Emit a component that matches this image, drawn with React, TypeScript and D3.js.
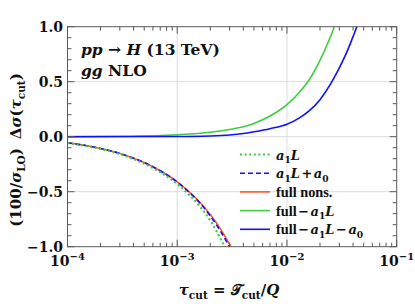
import React from 'react';
import * as d3 from 'd3';

// ---------- data ----------
const tauLow = [1e-4, 1.5e-4, 2e-4, 3e-4, 4e-4, 5e-4, 7e-4, 1e-3, 1.3e-3, 1.6e-3, 2e-3, 2.5e-3, 3e-3, 3.2e-3];
const a1L = [-0.057, -0.085, -0.111, -0.158, -0.203, -0.245, -0.323, -0.43, -0.533, -0.632, -0.762, -0.935, -1.09, -1.16];
const a1La0 = [-0.055, -0.082, -0.107, -0.152, -0.195, -0.235, -0.31, -0.412, -0.51, -0.6, -0.72, -0.865, -1.005, -1.06];
const fullNons = [-0.055, -0.082, -0.107, -0.152, -0.195, -0.235, -0.31, -0.41, -0.505, -0.593, -0.708, -0.845, -0.978, -1.03];
const tauHighG = [1e-4, 3e-4, 1e-3, 2e-3, 3e-3, 4e-3, 5e-3, 7e-3, 1e-2, 1.3e-2, 1.6e-2, 2e-2, 2.4e-2, 2.7e-2, 2.8e-2];
const fullMinusA1L = [0.001, 0.004, 0.018, 0.04, 0.066, 0.09, 0.12, 0.188, 0.292, 0.405, 0.52, 0.694, 0.87, 1.0, 1.05];
const tauHighB = [1e-4, 1e-3, 2e-3, 3e-3, 4e-3, 5e-3, 7e-3, 1e-2, 1.3e-2, 1.6e-2, 2e-2, 2.5e-2, 3e-2, 3.5e-2, 4e-2, 4.4e-2, 4.6e-2];
const fullMinusA1LA0 = [0, 0.002, 0.007, 0.016, 0.029, 0.045, 0.073, 0.113, 0.171, 0.237, 0.337, 0.48, 0.625, 0.766, 0.91, 1.02, 1.08];

const xMajor = [1e-4, 1e-3, 1e-2, 1e-1];
const xExpLabels = ['−4', '−3', '−2', '−1'];
const yMajor = [-1, -0.5, 0, 0.5, 1];
const yLabels = ['−1.0', '−0.5', '0.0', '0.5', '1.0'];
const yGrid = [-0.5, 0, 0.5];
const xGrid = [1e-3, 1e-2];

const W = 415, H = 304;
const L = 67.5, R = 396.7, T = 26.7, B = 246.7;
const FONT = '"DejaVu Serif", serif';
const FONT_TXT = '"Liberation Serif", serif';

const GREEN = '#40cc40';
const BLUE = '#1010ff';
const RED = '#ff5526';
const AXIS = '#5a5a5a';

type Seg = { t: string; i?: boolean; sub?: boolean; dx?: number; txt?: boolean };

function Rich({ segs, size }: { segs: Seg[]; size: number }) {
  const out: React.ReactNode[] = [];
  let shifted = false;
  segs.forEach((s, k) => {
    let dy = 0;
    if (s.sub && !shifted) { dy = size * 0.28; shifted = true; }
    else if (!s.sub && shifted) { dy = -size * 0.28; shifted = false; }
    out.push(
      <tspan key={k} dy={dy} dx={s.dx || 0} fontStyle={s.i ? 'italic' : 'normal'}
        fontFamily={s.txt ? FONT_TXT : undefined}
        fontSize={s.sub ? size * 0.7 : s.txt ? size * 1.1 : size}>
        {s.t}
      </tspan>
    );
  });
  return <>{out}</>;
}

const legendRows: { segs: Seg[]; color: string; dash: string; width: number }[] = [
  { segs: [{ t: 'a', i: true }, { t: '1', sub: true }, { t: 'L', i: true }], color: GREEN, dash: '2,2.6', width: 2.2 },
  { segs: [{ t: 'a', i: true }, { t: '1', sub: true }, { t: 'L', i: true }, { t: '+', dx: 1.5 }, { t: 'a', i: true, dx: 1.5 }, { t: '0', sub: true }], color: BLUE, dash: '5,3', width: 1.6 },
  { segs: [{ t: 'full nons.', txt: true }], color: RED, dash: '', width: 1.6 },
  { segs: [{ t: 'full', txt: true }, { t: '−', dx: 1.5 }, { t: 'a', i: true, dx: 1.5 }, { t: '1', sub: true }, { t: 'L', i: true }], color: GREEN, dash: '', width: 1.6 },
  { segs: [{ t: 'full', txt: true }, { t: '−', dx: 1.5 }, { t: 'a', i: true, dx: 1.5 }, { t: '1', sub: true }, { t: 'L', i: true }, { t: '−', dx: 1.5 }, { t: 'a', i: true, dx: 1.5 }, { t: '0', sub: true }], color: BLUE, dash: '', width: 1.6 },
];

export default function App() {
  const x = d3.scaleLog().domain([1e-4, 1e-1]).range([L, R]);
  const y = d3.scaleLinear().domain([-1, 1]).range([B, T]);
  const mk = (xs: number[], ys: number[]) =>
    d3.line<number>().x((_, i) => x(xs[i])).y((d) => y(d)).curve(d3.curveMonotoneX)(ys) || '';

  const xMinor: number[] = [];
  for (let e = -4; e < -1; e++) for (let m = 2; m <= 9; m++) xMinor.push(m * Math.pow(10, e));
  const yMinor: number[] = [];
  for (let k = -10; k <= 10; k++) if (k % 5 !== 0) yMinor.push(k / 10);

  const MAJ = 7, MIN = 4;

  return (
    <svg width={W} height={H} style={{ position: 'fixed', left: 0, top: 0, background: '#fff' }}
      fontFamily={FONT} fontWeight="bold">
      <defs>
        <clipPath id="plot"><rect x={L} y={T} width={R - L} height={B - T} /></clipPath>
      </defs>
      {/* grid */}
      {yGrid.map((v) => <line key={'gy' + v} x1={L} x2={R} y1={y(v)} y2={y(v)} stroke="#dcdcdc" strokeWidth={1} />)}
      {xGrid.map((v) => <line key={'gx' + v} x1={x(v)} x2={x(v)} y1={T} y2={B} stroke="#dcdcdc" strokeWidth={1} />)}

      {/* curves */}
      <g clipPath="url(#plot)" fill="none">
        <path d={mk(tauHighG, fullMinusA1L)} stroke={GREEN} strokeWidth={1.6} />
        <path d={mk(tauHighB, fullMinusA1LA0)} stroke={BLUE} strokeWidth={1.6} />
        <path d={mk(tauLow, fullNons)} stroke={RED} strokeWidth={1.6} />
        <path d={mk(tauLow, a1La0)} stroke={BLUE} strokeWidth={1.6} strokeDasharray="5,3" />
        <path d={mk(tauLow, a1L)} stroke={GREEN} strokeWidth={2.2} strokeDasharray="2,2.6" />
      </g>

      {/* frame and ticks */}
      <rect x={L} y={T} width={R - L} height={B - T} fill="none" stroke={AXIS} strokeWidth={1} />
      <g stroke={AXIS} strokeWidth={1}>
        {xMajor.map((v) => (
          <g key={'xm' + v}>
            <line x1={x(v)} x2={x(v)} y1={B} y2={B - MAJ} />
            <line x1={x(v)} x2={x(v)} y1={T} y2={T + MAJ} />
          </g>
        ))}
        {xMinor.map((v) => (
          <g key={'xn' + v}>
            <line x1={x(v)} x2={x(v)} y1={B} y2={B - MIN} />
            <line x1={x(v)} x2={x(v)} y1={T} y2={T + MIN} />
          </g>
        ))}
        {yMajor.map((v) => (
          <g key={'ym' + v}>
            <line x1={L} x2={L + MAJ} y1={y(v)} y2={y(v)} />
            <line x1={R} x2={R - MAJ} y1={y(v)} y2={y(v)} />
          </g>
        ))}
        {yMinor.map((v) => (
          <g key={'yn' + v}>
            <line x1={L} x2={L + MIN} y1={y(v)} y2={y(v)} />
            <line x1={R} x2={R - MIN} y1={y(v)} y2={y(v)} />
          </g>
        ))}
      </g>

      {/* tick labels */}
      {yMajor.map((v, i) => (
        <text key={'yl' + v} x={63} y={y(v) + 5} textAnchor="end" fontSize={14} fill="#111">{yLabels[i]}</text>
      ))}
      {xMajor.map((v, i) => (
        <text key={'xl' + v} x={x(v)} y={266} textAnchor="middle" fontSize={14} fill="#111">
          10<tspan dy={-6} fontSize={10}>{xExpLabels[i]}</tspan>
        </text>
      ))}

      {/* axis titles */}
      <text x={229} y={295} textAnchor="middle" fontSize={15} fill="#111">
        <Rich size={15} segs={[{ t: 'τ', i: true }, { t: 'cut', sub: true }, { t: ' = ' }, { t: '𝒯' }, { t: 'cut', sub: true }, { t: '/' }, { t: 'Q', i: true }]} />
      </text>
      <text transform={`translate(21,150) rotate(-90)`} textAnchor="middle" fontSize={15} fill="#111">
        <Rich size={15} segs={[{ t: '(100/' }, { t: 'σ', i: true }, { t: 'LO', sub: true }, { t: ')' }, { t: 'Δ', dx: 9 }, { t: 'σ', i: true }, { t: '(' }, { t: 'τ', i: true }, { t: 'cut', sub: true }, { t: ')' }]} />
      </text>

      {/* annotation */}
      <text x={81} y={55} fontSize={15.5} fill="#111">
        <tspan fontStyle="italic">pp</tspan> → <tspan fontStyle="italic">H</tspan> (13 TeV)
      </text>
      <text x={81} y={76} fontSize={15.5} fill="#111">
        <tspan fontStyle="italic">gg</tspan> NLO
      </text>

      {/* legend */}
      {legendRows.map((r, i) => {
        const yy = 154.5 + i * 18.7;
        return (
          <g key={'lg' + i}>
            <line x1={240} x2={270} y1={yy} y2={yy} stroke={r.color} strokeWidth={r.width} strokeDasharray={r.dash || undefined} />
            <text x={276} y={yy + 5} fontSize={13} fill="#111"><Rich size={13} segs={r.segs} /></text>
          </g>
        );
      })}
    </svg>
  );
}
